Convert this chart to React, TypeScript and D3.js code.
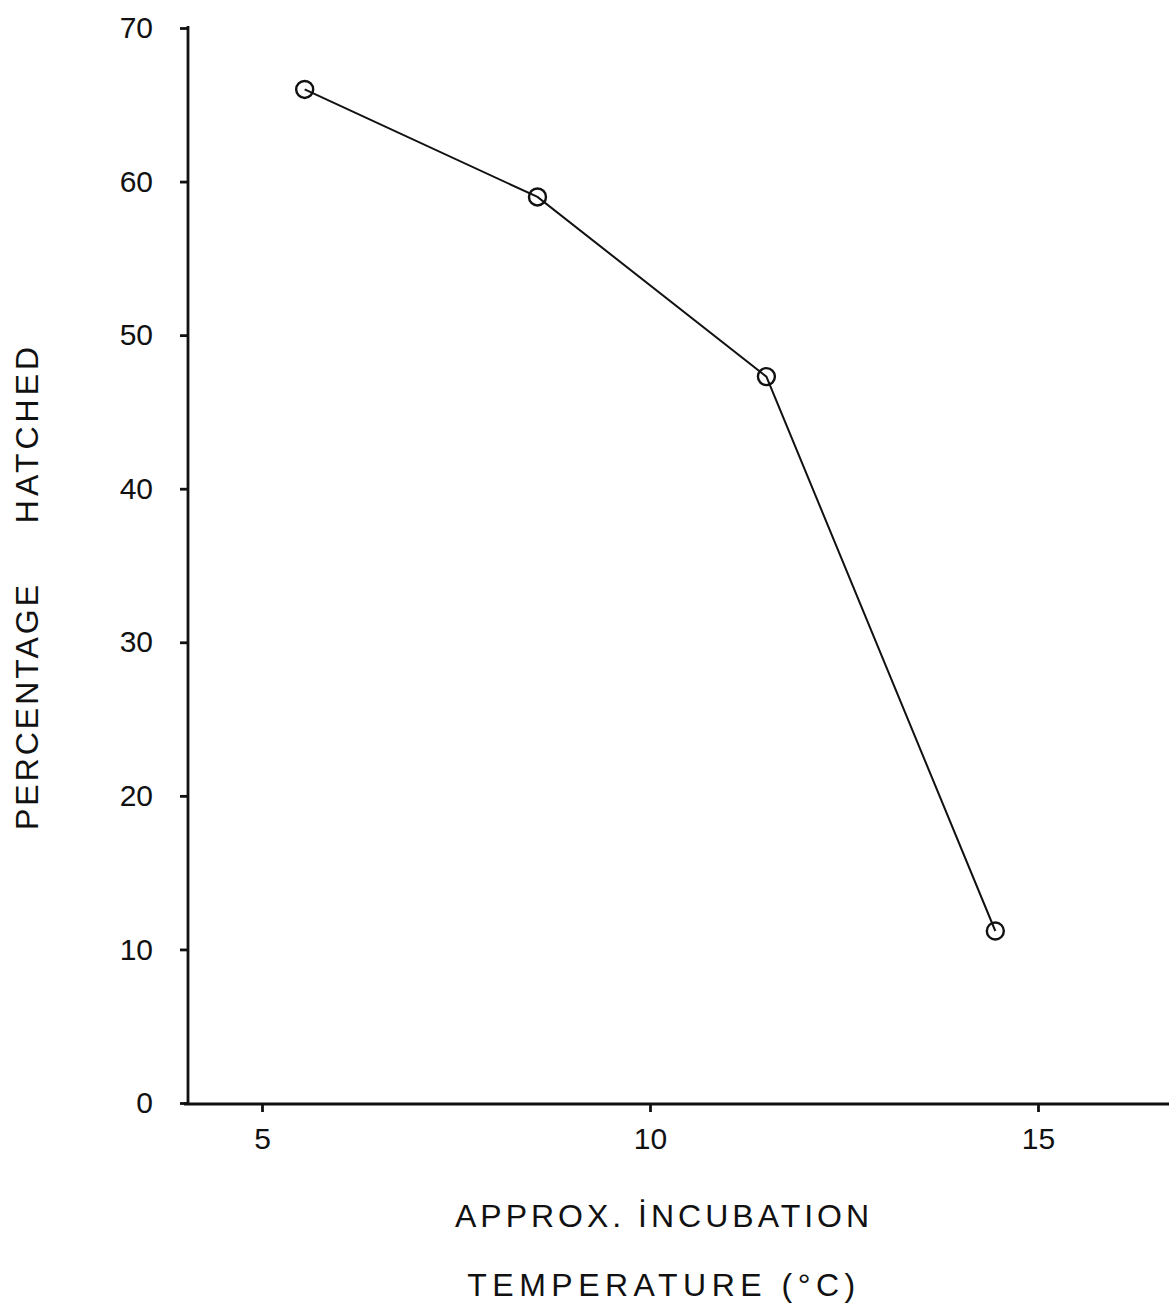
import * as d3 from "d3";
import { useEffect, useRef } from "react";

// approx. incubation temperature (°C) and percentage hatched
const temperature = [5.55, 8.55, 11.5, 14.45];
const hatched = [66, 59, 47.3, 11.2];
const xTicks = [5, 10, 15];
const yTicks = [0, 10, 20, 30, 40, 50, 60, 70];

const App = () => {
  const svgRef = useRef<SVGSVGElement>(null);

  useEffect(() => {
    const svg = d3.select(svgRef.current);
    svg.selectAll("*").remove();

    const x = d3.scaleLinear().domain([5, 15]).range([262, 1038]);
    const y = d3.scaleLinear().domain([0, 70]).range([1103, 28]);
    const font = "'Liberation Sans', Arial, sans-serif";

    // axes
    const yAxis = svg
      .append("g")
      .attr("transform", "translate(188,0)")
      .call(d3.axisLeft(y).tickValues(yTicks).tickSize(8).tickPadding(27).tickSizeOuter(0));
    yAxis.select(".domain").attr("d", `M0,${y(70) - 2}V${y(0) + 2}`);

    const xAxis = svg
      .append("g")
      .attr("transform", `translate(0,${y(0) + 1})`)
      .call(d3.axisBottom(x).tickValues(xTicks).tickSize(8).tickPadding(16).tickSizeOuter(0));
    xAxis.select(".domain").attr("d", `M184,0H1169`);

    svg.selectAll(".domain").attr("stroke", "#111").attr("stroke-width", 2.8);
    svg.selectAll(".tick line").attr("stroke", "#111").attr("stroke-width", 2.8);
    svg
      .selectAll(".tick text")
      .attr("font-family", font)
      .attr("font-size", 30)
      .attr("fill", "#111");

    // line and circles
    const pts = temperature.map((t, i) => [t, hatched[i]] as [number, number]);
    const line = d3
      .line<[number, number]>()
      .x((d) => x(d[0]))
      .y((d) => y(d[1]));
    svg
      .append("path")
      .attr("d", line(pts))
      .attr("fill", "none")
      .attr("stroke", "#111")
      .attr("stroke-width", 2);

    svg
      .selectAll("circle.pt")
      .data(pts)
      .enter()
      .append("circle")
      .attr("class", "pt")
      .attr("cx", (d) => x(d[0]))
      .attr("cy", (d) => y(d[1]))
      .attr("r", 8.5)
      .attr("fill", "none")
      .attr("stroke", "#111")
      .attr("stroke-width", 2.4);

    // axis titles
    const title = (txt: string, tx: number, ty: number, rot = 0, sp = 4) =>
      svg
        .append("text")
        .attr("transform", `translate(${tx},${ty}) rotate(${rot})`)
        .attr("text-anchor", "middle")
        .attr("font-family", font)
        .attr("font-size", 32)
        .attr("letter-spacing", sp)
        .attr("fill", "#111")
        .text(txt);

    title("APPROX. İNCUBATION", 664, 1227);
    title("TEMPERATURE (°C)", 664, 1296, 0, 5.5);
    title("PERCENTAGE", 38, 706, -90, 3);
    title("HATCHED", 38, 433, -90);
  }, []);

  return (
    <svg
      ref={svgRef}
      width={1169}
      height={1310}
      style={{ position: "absolute", left: 0, top: 0, background: "#fff" }}
    />
  );
};

export default App;
